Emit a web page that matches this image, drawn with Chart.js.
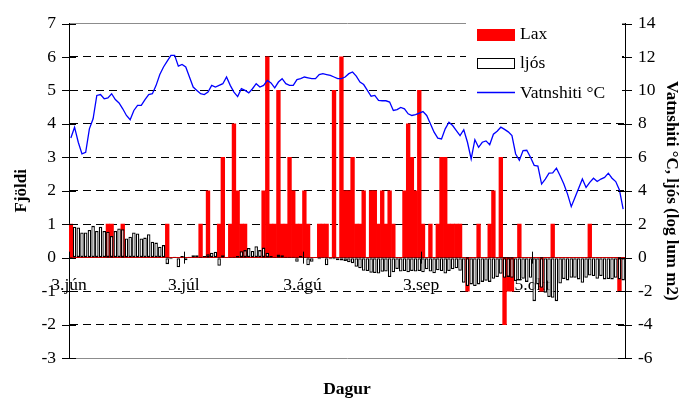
<!DOCTYPE html>
<html>
<head>
<meta charset="utf-8">
<script src="https://cdn.jsdelivr.net/npm/chart.js@4.4.0/dist/chart.umd.min.js"></script>
<style>
  html, body { margin: 0; padding: 0; background: #fff; }
  canvas { display: block; }
</style>
</head>
<body>
<canvas id="chart" width="680" height="403"></canvas>
<script>
// Daily counts, one value per day from 3 June
const lax = [
  1, 0, 0, 0, 0, 0, 0, 0, 0, 0,
  1, 1, 0, 0, 1, 0, 0, 0, 0, 0,
  0, 0, 0, 0, 0, 0, 1, 0, 0, 0,
  0, 0, 0, 0, 0, 1, 0, 2, 0, 0,
  1, 3, 0, 1, 4, 2, 1, 1, 0, 0,
  0, 0, 2, 6, 1, 1, 5, 1, 1, 3,
  2, 1, 1, 2, 1, 0, 0, 1, 1, 1,
  0, 5, 0, 6, 2, 2, 3, 1, 1, 2,
  0, 2, 2, 1, 2, 1, 2, 1, 0, 0,
  2, 4, 3, 2, 5, 1, 0, 1, 0, 1,
  3, 3, 1, 1, 1, 1, 0, -1, 0, 0,
  1, 0, 0, 1, 2, 0, 3, -2, -1, -1,
  0, 1, 0, 0, 0, 0, 0, -1, 0, 0,
  1, 0, 0, 0, 0, 0, 0, 0, 0, 0,
  1, 0, 0, 0, 0, 0, 0, 0, -1, 0
];

// Light, log lum m2 (right axis)
const ljos = [
  0, 1.85, 1.8, 1.5, 1.5, 1.65, 1.9, 1.6, 1.85, 1.6,
  1.55, 1.3, 1.6, 1.75, 1.7, 1.15, 1.25, 1.5, 1.45, 1.15,
  1.2, 1.4, 0.95, 0.9, 0.65, 0.75, -0.39, -0.1, 0.05, -0.58,
  0.1, -0.15, 0.05, 0.15, 0.15, 0.0, 0.1, 0.2, 0.3, 0.35,
  -0.48, 0.15, 0.0, 0.0, 0.05, 0.1, 0.39, 0.45, 0.58, 0.4,
  0.68, 0.45, 0.6, 0.3, 0.1, 0.0, 0.19, 0.15, 0.05, 0.05,
  0.05, -0.25, 0.1, 0.0, -0.45, -0.25, 0.0, -0.1, -0.05, -0.45,
  -0.1, -0.1, -0.15, -0.17, -0.2, -0.27, -0.33, -0.55, -0.64, -0.78,
  -0.8, -0.9, -0.92, -0.95, -0.85, -0.83, -1.16, -0.87, -0.68, -0.83,
  -0.8, -0.87, -0.8, -0.83, -0.8, -0.87, -0.7, -0.83, -0.93, -0.75,
  -0.8, -0.95, -0.8, -0.7, -0.64, -0.78, -1.5, -1.7, -1.6, -1.7,
  -1.6, -1.45, -1.38, -1.45, -1.26, -1.16, -0.97, -1.2, -1.15, -1.2,
  -1.4, -1.36, -1.26, -1.45, -1.2, -2.6, -1.6, -1.8, -2.1, -2.35,
  -2.4, -2.6, -1.55, -1.28, -1.36, -1.2, -1.2, -1.3, -1.5, -1.2,
  -1.07, -1.1, -1.26, -1.1, -1.3, -1.28, -1.3, -1.2, -1.3, -1.36
];

// Water temperature, °C (right axis)
const hiti = [
  7.15, 7.8, 6.9, 6.2, 6.3, 7.7, 8.3, 9.7, 9.75, 9.5,
  9.55, 9.8, 9.45, 9.25, 8.9, 8.5, 8.25, 8.8, 9.1, 9.1,
  9.45, 9.75, 9.8, 10.3, 10.95, 11.4, 11.75, 12.1, 12.1, 11.45,
  11.55, 11.4, 10.8, 10.2, 10.0, 9.8, 9.75, 9.9, 10.3, 10.2,
  10.3, 10.4, 10.8, 10.3, 9.9, 9.63, 10.1, 10.0, 9.85, 10.1,
  10.4, 10.2, 10.3, 10.6, 10.45, 10.15, 10.5, 10.7, 10.4, 10.3,
  10.3, 10.65, 10.7, 10.8, 10.75, 10.7, 10.7, 10.95, 11.0, 10.95,
  10.9, 10.8, 10.7, 10.7, 10.8, 11.0, 11.1, 10.85, 10.5, 10.35,
  10.0, 9.65, 9.7, 9.4, 9.38, 9.38, 9.3, 8.8, 8.85, 8.98,
  8.9, 8.6, 8.5, 8.55, 8.64, 8.73, 8.5, 8.0, 7.5, 7.15,
  7.1, 7.7, 8.1, 7.9, 7.6, 7.3, 7.65, 6.9, 5.9, 7.05,
  6.6, 6.9, 6.98, 6.75, 7.38, 7.56, 7.8, 7.67, 7.52, 7.3,
  6.2, 5.82, 6.4, 6.42, 6.0, 5.52, 5.48, 4.4, 4.7, 5.05,
  5.07, 5.35, 4.9, 4.4, 3.8, 3.05, 3.6, 4.15, 4.7, 4.2,
  4.5, 4.75, 4.55, 4.7, 4.8, 5.05, 4.75, 4.55, 4.05, 2.9
];

// Date labels and the day index each one starts at
const tickNames = ['3.jún', '3.júl', '3.ágú', '3.sep', '5.okt'];
const tickDays = [0, 31, 63, 95, 125];

const FONT = 'Liberation Serif, Times New Roman, serif';
Chart.defaults.font.family = FONT;
Chart.defaults.font.size = 17.5;
Chart.defaults.color = '#000';

const toPoints = arr => arr.map((v, i) => ({ x: i, y: v }));
const plainLine = v => v === undefined || v === 7 || v === -3 || v === 0;

// crossing tick marks, legend box and the x axis title
const extras = {
  id: 'extras',
  afterDatasetsDraw(chart) {
    const { ctx, chartArea: a, scales } = chart;
    ctx.save();
    ctx.strokeStyle = '#000';
    ctx.lineWidth = 1;
    ctx.beginPath();
    scales.y.ticks.forEach(t => {
      const p = Math.round(scales.y.getPixelForValue(t.value)) + 0.5;
      ctx.moveTo(a.left - 7, p);
      ctx.lineTo(a.left + 7, p);
    });
    scales.y2.ticks.forEach(t => {
      const p = Math.round(scales.y2.getPixelForValue(t.value)) + 0.5;
      ctx.moveTo(a.right - 7, p);
      ctx.lineTo(a.right + 7, p);
    });
    const zero = scales.y.getPixelForValue(0);
    scales.x.ticks.forEach(t => {
      const p = Math.round(scales.x.getPixelForValue(t.value)) + 0.5;
      ctx.moveTo(p, zero - 6);
      ctx.lineTo(p, zero + 6);
    });
    ctx.stroke();

    // legend
    const ds = chart.data.datasets;
    ctx.fillStyle = '#fff';
    ctx.fillRect(466, 17, 156, 90);
    ctx.fillStyle = ds[2].backgroundColor;
    ctx.fillRect(477, 29, 38, 12);
    ctx.fillStyle = ds[1].backgroundColor;
    ctx.fillRect(477, 58, 38, 11);
    ctx.strokeStyle = ds[1].borderColor;
    ctx.strokeRect(477.5, 58.5, 37, 10);
    ctx.strokeStyle = ds[0].borderColor;
    ctx.lineWidth = 1.3;
    ctx.beginPath();
    ctx.moveTo(477, 92.5);
    ctx.lineTo(515, 92.5);
    ctx.stroke();
    ctx.fillStyle = '#000';
    ctx.font = '17.5px ' + FONT;
    ctx.textAlign = 'left';
    ctx.textBaseline = 'alphabetic';
    ctx.fillText(ds[2].label, 520, 39);
    ctx.fillText(ds[1].label, 520, 68);
    ctx.fillText(ds[0].label, 520, 98);

    ctx.font = 'bold 17.5px ' + FONT;
    ctx.textAlign = 'center';
    ctx.fillText('Dagur', (a.left + a.right) / 2, 394);
    ctx.restore();
  }
};

new Chart(document.getElementById('chart'), {
  type: 'bar',
  data: {
    datasets: [
      {
        type: 'line',
        label: 'Vatnshiti °C',
        data: toPoints(hiti),
        yAxisID: 'y2',
        borderColor: '#0000ff',
        borderWidth: 1.3,
        pointRadius: 0,
        tension: 0,
        order: 1
      },
      {
        label: 'ljós',
        data: toPoints(ljos),
        yAxisID: 'y2',
        backgroundColor: '#ffffff',
        borderColor: '#000000',
        borderWidth: 1.3,
        borderSkipped: false,
        barPercentage: 0.95,
        categoryPercentage: 1,
        grouped: false,
        order: 2
      },
      {
        label: 'Lax',
        data: toPoints(lax),
        yAxisID: 'y',
        backgroundColor: '#ff0000',
        borderWidth: 0,
        barPercentage: 1,
        categoryPercentage: 1,
        grouped: false,
        order: 3
      }
    ]
  },
  options: {
    responsive: false,
    animation: false,
    devicePixelRatio: 1,
    layout: { padding: { top: 14, bottom: 45, left: 0, right: 0 } },
    plugins: { legend: { display: false }, tooltip: { enabled: false } },
    scales: {
      x: {
        type: 'linear',
        position: { y: 0 },
        offset: false,
        bounds: 'data',
        min: -0.5,
        max: lax.length - 0.5,
        afterBuildTicks: s => { s.ticks = tickDays.map(d => ({ value: d - 0.5 })); },
        ticks: {
          autoSkip: false,
          maxRotation: 0,
          padding: 17.5,
          callback: v => {
            const k = tickDays.indexOf(v + 0.5);
            return k < 0 ? '' : tickNames[k];
          }
        },
        grid: { drawOnChartArea: false, drawTicks: false, offset: false },
        border: { color: '#000', width: 1 }
      },
      y: {
        position: 'left',
        min: -3,
        max: 7,
        ticks: { stepSize: 1, padding: 13 },
        grid: {
          drawTicks: false,
          lineWidth: 1,
          color: c => (c.tick && (c.tick.value === 7 || c.tick.value === -3)) ? '#8c8c8c' : '#000'
        },
        border: {
          color: '#000',
          width: 1,
          dash: c => plainLine(c.tick ? c.tick.value : undefined) ? [] : [8, 5]
        },
        title: {
          display: true,
          text: 'Fjöldi',
          font: { weight: 'bold', size: 17 },
          padding: { top: 11.5, bottom: 0 }
        },
        afterFit: s => { s.width = 69; }
      },
      y2: {
        position: 'right',
        min: -6,
        max: 14,
        ticks: { stepSize: 2, padding: 13 },
        grid: { drawOnChartArea: false, drawTicks: false },
        border: { color: '#000', width: 1 },
        title: {
          display: true,
          text: 'Vatnshiti °C, ljós (log lum m2)',
          font: { weight: 'bold', size: 17 },
          padding: { top: -2, bottom: 0 }
        },
        afterFit: s => { s.width = 55; }
      }
    }
  },
  plugins: [extras]
});
</script>
</body>
</html>
